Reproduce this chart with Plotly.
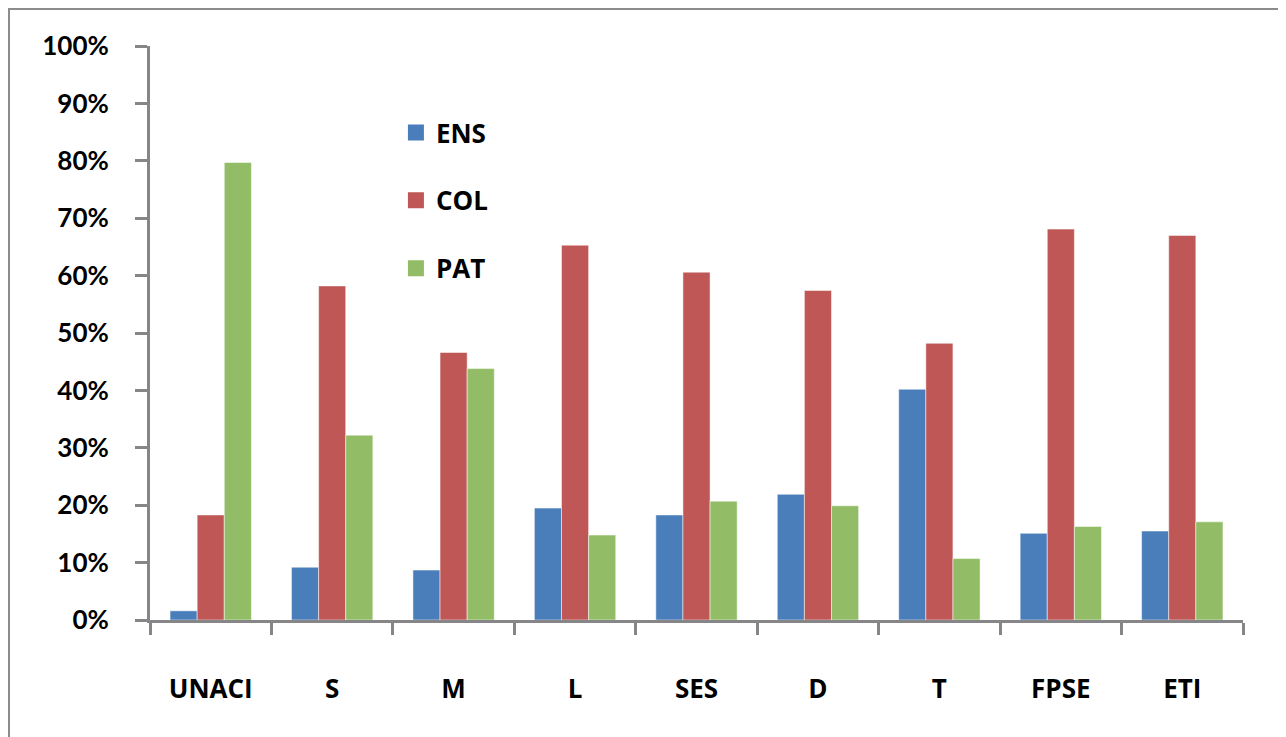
import plotly.graph_objects as go

categories = ["UNACI", "S", "M", "L", "SES", "D", "T", "FPSE", "ETI"]
ens = [0.016, 0.092, 0.087, 0.195, 0.183, 0.219, 0.402, 0.151, 0.155]
col = [0.183, 0.582, 0.466, 0.653, 0.606, 0.574, 0.482, 0.681, 0.670]
pat = [0.797, 0.322, 0.438, 0.148, 0.207, 0.199, 0.107, 0.163, 0.171]
y_ticks = [0, 0.1, 0.2, 0.3, 0.4, 0.5, 0.6, 0.7, 0.8, 0.9, 1.0]
y_tick_labels = ["0%", "10%", "20%", "30%", "40%", "50%", "60%", "70%", "80%", "90%", "100%"]

series = [("ENS", ens, "#4a7ebb"), ("COL", col, "#be5755"), ("PAT", pat, "#92bd66")]

fig = go.Figure()
for name, vals, color in series:
    fig.add_trace(go.Bar(
        x=categories, y=vals, name=name, legendgroup=name, showlegend=False,
        marker=dict(color=color, line=dict(color="rgba(255,255,255,0.5)", width=1)),
    ))
# legend entries (larger square swatches)
for name, vals, color in series:
    fig.add_trace(go.Scatter(
        x=[None], y=[None], name=name, legendgroup=name, mode="markers",
        marker=dict(symbol="square", size=21, color=color), hoverinfo="skip",
    ))

axis_gray = "#868689"
W, H = 1278, 729
fig.update_layout(
    width=W, height=H,
    margin=dict(l=142, r=43, t=38, b=117),
    paper_bgcolor="white", plot_bgcolor="white",
    barmode="group", bargap=0.33, bargroupgap=0,
    font=dict(family="Open Sans", color="black"),
    legend=dict(
        x=0.225, y=0.89, xanchor="left", yanchor="top",
        font=dict(family="Open Sans", size=26, weight="bold", color="black"),
        tracegroupgap=31, bgcolor="rgba(0,0,0,0)",
    ),
    xaxis=dict(
        showline=True, linecolor=axis_gray, linewidth=3,
        ticks="outside", tickson="boundaries", ticklen=12, tickwidth=3, tickcolor=axis_gray,
        tickfont=dict(family="Open Sans", size=26, weight="bold", color="black"),
        ticklabelstandoff=44, showgrid=False, zeroline=False,
    ),
    yaxis=dict(
        range=[0, 1.0], tickvals=y_ticks, ticktext=y_tick_labels,
        showline=True, linecolor=axis_gray, linewidth=3,
        ticks="outside", ticklen=12, tickwidth=3, tickcolor=axis_gray,
        tickfont=dict(family="Lato", size=26, weight="bold", color="black"),
        ticklabelstandoff=21, showgrid=False, zeroline=False,
    ),
)

pw, ph = W - 142 - 43, H - 38 - 117
fig.add_shape(type="rect", xref="paper", yref="paper",
              x0=(0.5 - 142) / pw, x1=(W + 40 - 142) / pw,
              y0=-(H + 40 - (H - 117)) / ph, y1=(H - 117 - 0.5) / ph,
              line=dict(color="#8c8c8f", width=3), fillcolor="rgba(0,0,0,0)", layer="below")

fig.write_html("out.html")
